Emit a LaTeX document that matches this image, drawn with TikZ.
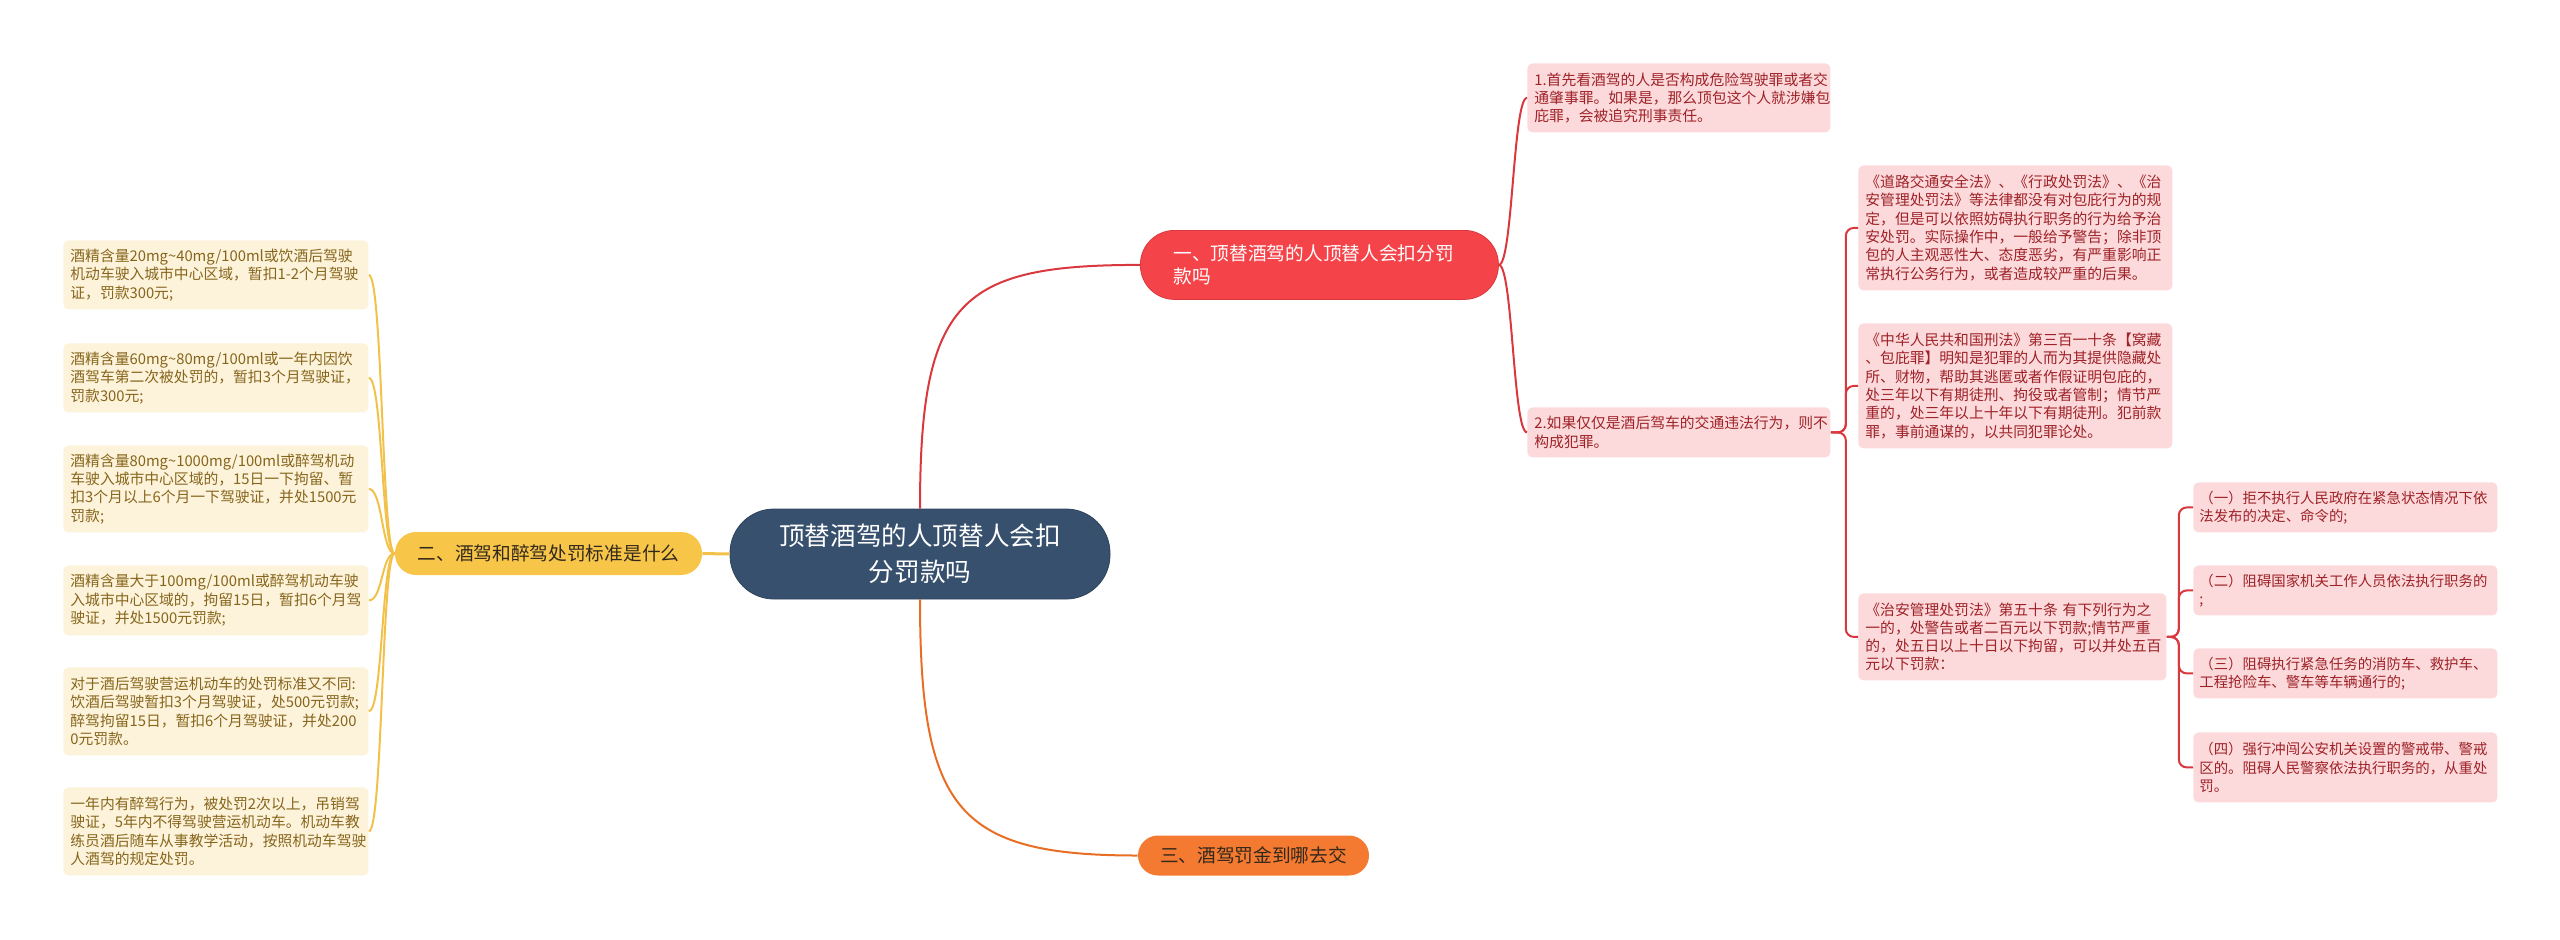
\documentclass[tikz,border=0pt]{standalone}
\usepackage{fontspec}
\setmainfont{Noto Sans CJK SC}
\usetikzlibrary{calc}
\definecolor{ctrfill}{HTML}{37506D}
\definecolor{redfill}{HTML}{F4444A}
\definecolor{redline}{HTML}{D9383E}
\definecolor{orgfill}{HTML}{F37A30}
\definecolor{orgline}{HTML}{E86E24}
\definecolor{yelfill}{HTML}{F7C649}
\definecolor{yelline}{HTML}{F2C14A}
\definecolor{pinkfill}{HTML}{FCDADB}
\definecolor{pinktext}{HTML}{9E2228}
\definecolor{creamfill}{HTML}{FDF2DA}
\definecolor{creamtext}{HTML}{86661C}
\definecolor{darktext}{HTML}{33281C}
\begin{document}
\begin{tikzpicture}[x=0.5pt,y=-0.5pt,
  leafbase/.style={anchor=north west, align=left, inner xsep=3.5pt, inner ysep=0pt, rounded corners=2.5pt,
    font=\fontsize{7.4pt}{9.15pt}\selectfont},
  leafY/.style={leafbase, fill=creamfill, text=creamtext},
  leafR/.style={leafbase, fill=pinkfill, text=pinktext},
  leafD/.style={leafR, inner xsep=3pt, font=\fontsize{7.2pt}{9.15pt}\selectfont},
  ctrbox/.style={fill=ctrfill, draw=ctrfill!85!black, line width=0.4pt, text=white, minimum width=190pt, minimum height=45pt,
    rounded corners=22pt, align=center, inner sep=0pt, font=\fontsize{12.8pt}{18pt}\selectfont},
  branchbase/.style={inner sep=0pt, font=\fontsize{9.35pt}{11.7pt}\selectfont},
  yconn/.style={draw=yelline, line width=1pt},
  rconn/.style={draw=redline, line width=1pt},
  oconn/.style={draw=orgline, line width=1pt}]
\useasboundingbox (0,0) rectangle (2560,939);

% central
\node[ctrbox] (ctr) at (920,554) {顶替酒驾的人顶替人会扣\\分罚款吗};

% branches
\node[branchbase, fill=yelfill, text=darktext, minimum width=153.5pt, minimum height=21.5pt, rounded corners=10.5pt] (yb) at (548.5,553.5) {二、酒驾和醉驾处罚标准是什么};
\node[branchbase, anchor=north west, fill=redfill, draw=redline, line width=0.4pt, text=white, text width=146pt, align=left,
  inner xsep=16.5pt, minimum height=34.5pt, rounded corners=17pt] (rb) at (1140,230) {一、顶替酒驾的人顶替人会扣分罚\\款吗};
\node[branchbase, fill=orgfill, text=darktext, minimum width=115.5pt, minimum height=20pt, rounded corners=10pt] (ob) at (1253.5,855.5) {三、酒驾罚金到哪去交};

% left leaves
\node[leafY, text width=145.5pt, minimum height=34.5pt] (l1) at (63,240) {酒精含量20mg\textasciitilde40mg/100ml或饮酒后驾驶\\机动车驶入城市中心区域，暂扣1-2个月驾驶\\证，罚款300元;};
\node[leafY, text width=145.5pt, minimum height=34.5pt] (l2) at (63,343) {酒精含量60mg\textasciitilde80mg/100ml或一年内因饮\\酒驾车第二次被处罚的，暂扣3个月驾驶证，\\罚款300元;};
\node[leafY, text width=145.5pt, minimum height=43.5pt] (l3) at (63,445) {酒精含量80mg\textasciitilde1000mg/100ml或醉驾机动\\车驶入城市中心区域的，15日一下拘留、暂\\扣3个月以上6个月一下驾驶证，并处1500元\\罚款;};
\node[leafY, text width=145.5pt, minimum height=35pt] (l4) at (63,565) {酒精含量大于100mg/100ml或醉驾机动车驶\\入城市中心区域的，拘留15日，暂扣6个月驾\\驶证，并处1500元罚款;};
\node[leafY, text width=145.5pt, minimum height=44pt] (l5) at (63,667) {对于酒后驾驶营运机动车的处罚标准又不同:\\饮酒后驾驶暂扣3个月驾驶证，处500元罚款;\\醉驾拘留15日，暂扣6个月驾驶证，并处200\\0元罚款。};
\node[leafY, text width=145.5pt, minimum height=44pt] (l6) at (63,787) {一年内有醉驾行为，被处罚2次以上，吊销驾\\驶证，5年内不得驾驶营运机动车。机动车教\\练员酒后随车从事教学活动，按照机动车驾驶\\人酒驾的规定处罚。};

% right leaves
\node[leafR, text width=144.5pt, minimum height=34.5pt] (r1) at (1527,63) {1.首先看酒驾的人是否构成危险驾驶罪或者交\\通肇事罪。如果是，那么顶包这个人就涉嫌包\\庇罪，会被追究刑事责任。};
\node[leafR, text width=144.5pt, minimum height=25pt] (r2) at (1527,407) {2.如果仅仅是酒后驾车的交通违法行为，则不\\构成犯罪。};
\node[leafR, text width=150pt, minimum height=62.5pt] (ra) at (1858,165) {《道路交通安全法》、《行政处罚法》、《治\\安管理处罚法》等法律都没有对包庇行为的规\\定，但是可以依照妨碍执行职务的行为给予治\\安处罚。实际操作中，一般给予警告；除非顶\\包的人主观恶性大、态度恶劣，有严重影响正\\常执行公务行为，或者造成较严重的后果。};
\node[leafR, text width=150pt, minimum height=62.5pt] (rbb) at (1858,323) {《中华人民共和国刑法》第三百一十条【窝藏\\、包庇罪】明知是犯罪的人而为其提供隐藏处\\所、财物，帮助其逃匿或者作假证明包庇的，\\处三年以下有期徒刑、拘役或者管制；情节严\\重的，处三年以上十年以下有期徒刑。犯前款\\罪，事前通谋的，以共同犯罪论处。};
\node[leafR, text width=147pt, minimum height=43.5pt] (rc) at (1858,593) {《治安管理处罚法》第五十条 有下列行为之\\一的，处警告或者二百元以下罚款;情节严重\\的，处五日以上十日以下拘留，可以并处五百\\元以下罚款：};
\node[leafD, text width=146pt, minimum height=25pt] (d1) at (2193,482) {（一）拒不执行人民政府在紧急状态情况下依\\法发布的决定、命令的;};
\node[leafD, text width=146pt, minimum height=25pt] (d2) at (2193,565) {（二）阻碍国家机关工作人员依法执行职务的\\;};
\node[leafD, text width=146pt, minimum height=25pt] (d3) at (2193,648) {（三）阻碍执行紧急任务的消防车、救护车、\\工程抢险车、警车等车辆通行的;};
\node[leafD, text width=146pt, minimum height=35pt] (d4) at (2193,732) {（四）强行冲闯公安机关设置的警戒带、警戒\\区的。阻碍人民警察依法执行职务的，从重处\\罚。};

% connectors
\draw[yconn, line width=1.5pt] (yb.east) -- (ctr.west);
\draw[rconn] (ctr.north) .. controls ($(ctr.north)+(0,-209)$) and ($(rb.west)+(-180,0)$) .. (rb.west);
\draw[oconn] (ctr.south) .. controls ($(ctr.south)+(0,211)$) and ($(ob.west)+(-180,0)$) .. (ob.west);

\foreach \n in {l1,l2,l3,l4,l5,l6}
  \draw[yconn] (yb.west) .. controls ($(yb.west)+(-13,0)$) and ($(\n.east)+(14,0)$) .. (\n.east);
\foreach \n in {r1,r2}
  \draw[rconn] (rb.east) .. controls ($(rb.east)+(14,0)$) and ($(\n.west)+(-14,0)$) .. (\n.west);
\foreach \n in {ra,rbb,rc}
  \draw[rconn, rounded corners=4pt] (r2.east) -- ++(15,0) |- (\n.west);
\foreach \n in {d1,d2,d3,d4}
  \draw[rconn, rounded corners=4pt] (rc.east) -- ++(12,0) |- (\n.west);
\end{tikzpicture}
\end{document}
